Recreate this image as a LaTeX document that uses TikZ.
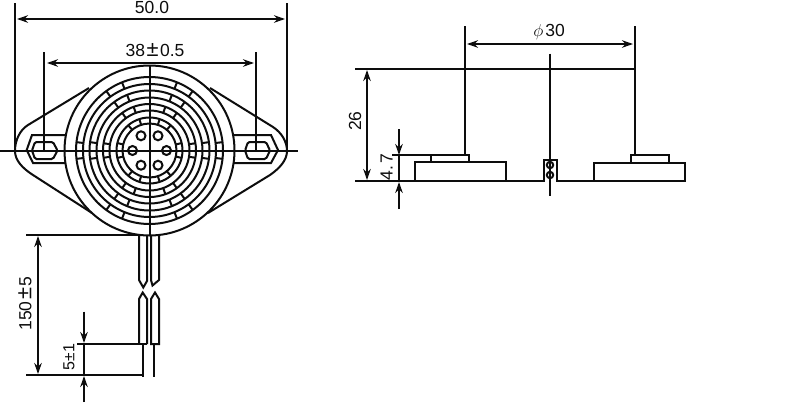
\documentclass[tikz,border=0pt]{standalone}
\usepackage{fontspec}
\setmainfont{Liberation Sans}
\usetikzlibrary{arrows.meta}
\definecolor{ink}{gray}{0.05}
\tikzset{
  part/.style={draw=ink,line width=2pt},
  thin part/.style={draw=ink,line width=2pt},
  extline/.style={draw=ink,line width=2pt},
  dimline/.style={draw=ink,line width=2pt,{Stealth[length=11pt,width=7.5pt]}-{Stealth[length=11pt,width=7.5pt]}},
  leader/.style={draw=ink,line width=2pt,-{Stealth[length=11pt,width=7.5pt]}},
  dimtext/.style={text=ink,font=\fontsize{17.5}{19}\selectfont,inner sep=0pt},
}
\newcommand{\plusminus}{\kern1.5pt\resizebox{12pt}{!}{±}\kern1.5pt}
\begin{document}
\begin{tikzpicture}[x=1pt,y=-1pt]
\useasboundingbox (0,0) rectangle (800,402);
\fill[white] (0,0) rectangle (800,402);
% flange
\draw[part] (89,88) -- (28,125) .. controls (20,130) and (15,140) .. (15,151) .. controls (15,160) and (22,168) .. (33,175) -- (92,213);
\draw[part] (210,88) -- (273,127) .. controls (282,133) and (287,142) .. (287,151) .. controls (287,160) and (280,168) .. (270,175) -- (208,213);
% slots
\draw[part] (70,135) -- (32,135) -- (26.7,150) -- (33,163) -- (70,163);
\draw[part] (230,135) -- (271,135) -- (278,150) -- (271,163) -- (230,163);
\draw[part,rounded corners=1.5pt] (35,142) -- (53,142) -- (57.5,150.5) -- (53,159) -- (35,159) -- (32,150.5) -- cycle;
\draw[part,rounded corners=1.5pt] (248,142) -- (266,142) -- (270,150.5) -- (266,159) -- (248,159) -- (245,150.5) -- cycle;
% body
\draw[part,fill=white] (149.5,150.5) circle[radius=85];
\foreach \r in {73.5,66.5,60,53,46.5,40,33,27}{
  \draw[thin part] (149.5,150.5) circle[radius=\r];
}
% ticks in the bands
\foreach \ri/\ro/\a/\b/\c in {66.5/73.5/6.5/54/68, 53/60/8/54/68, 40/46.5/9/54/70, 27/33/13/50/72}{
  \foreach \t in {\a,\b,\c}{
    \foreach \s in {\t,-\t,180-\t,180+\t}{
      \draw[thin part] ({149.5+\ri*cos(\s)},{150.5-\ri*sin(\s)}) -- ({149.5+\ro*cos(\s)},{150.5-\ro*sin(\s)});
    }
  }
}
% holes
\foreach \s in {0,60,120,180,240,300}{
  \draw[thin part] ({149.5+17*cos(\s)},{150.5-17*sin(\s)}) circle[radius=4.5];
}
% centre lines
\draw[part] (0,151) -- (298,151);
\draw[part] (150,65) -- (150,235);
% overall dimensions
\draw[extline] (15,3) -- (15,151);
\draw[extline] (287,3) -- (287,151);
\draw[dimline] (17,19) -- (285,19);
\node[dimtext] (w50) at (152,7.5) {50.0};
\draw[extline] (44,52) -- (44,151);
\draw[extline] (256,52) -- (256,151);
\draw[dimline] (47,63) -- (254,63);
\node[dimtext] (w38) at (155,50) {38\plusminus 0.5};
% wires
\draw[part] (26,235) -- (140,235);
\draw[part] (139,235) -- (139,280) -- (143.3,287.5) -- (147,281) -- (147,235);
\draw[part] (151,235) -- (151,280) -- (152.5,285.5) -- (159,280) -- (159,235);
\draw[part] (139,344) -- (139,299) -- (142.7,292.5) -- (147,299) -- (147,344);
\draw[part] (151,344) -- (151,299) -- (155,292.5) -- (159,299) -- (159,344) -- cycle;
\draw[part] (143,344) -- (143,377);
\draw[thin part] (154,344) -- (154,377);
\draw[part] (77,344) -- (147,344);
\draw[part] (26,375) -- (144,375);
% length dimensions
\draw[dimline] (38,236) -- (38,374);
\node[dimtext,rotate=90] (l150) at (25,303.5) {150\plusminus 5};
\draw[leader] (84,311.5) -- (84,343);
\draw[leader] (84,402) -- (84,376);
\draw[part] (84,343) -- (84,375);
\node[dimtext,rotate=90,font=\fontsize{16}{18}\selectfont] (l5) at (69,357) {5\kern0.5pt\resizebox{8.5pt}{!}{±}\kern0.5pt 1};
% side view
\draw[extline] (465,26) -- (465,155);
\draw[extline] (635,26) -- (635,155);
\draw[dimline] (467,44) -- (633,44);
\node[dimtext] (d30) at (549,32.5) {$\phi$\kern2pt 30};
\draw[part] (355,69) -- (636,69);
\draw[part] (550,53.5) -- (550,195.5);
\draw[part] (355,181) -- (415,181);
\draw[part] (415,181) rectangle (506,162);
\draw[part] (594,181) rectangle (685,163);
\draw[part] (431,162) rectangle (469,155);
\draw[part] (631,163) rectangle (669,155);
\draw[part] (506,181) -- (544,181) -- (544,160) -- (557,160) -- (557,181) -- (594,181);
\draw[thin part] (550,165) circle[radius=3.2];
\draw[thin part] (550,175) circle[radius=3.2];
\draw[dimline] (367,70) -- (367,180);
\node[dimtext,rotate=90] (h26) at (355,121) {26};
\draw[part] (392,155) -- (431,155);
\draw[leader] (399,129.3) -- (399,155);
\draw[leader] (399,209) -- (399,182);
\draw[part] (399,155) -- (399,181);
\node[dimtext,rotate=90] (h47) at (386.5,167) {4.\kern2pt 7};
\end{tikzpicture}
\end{document}
